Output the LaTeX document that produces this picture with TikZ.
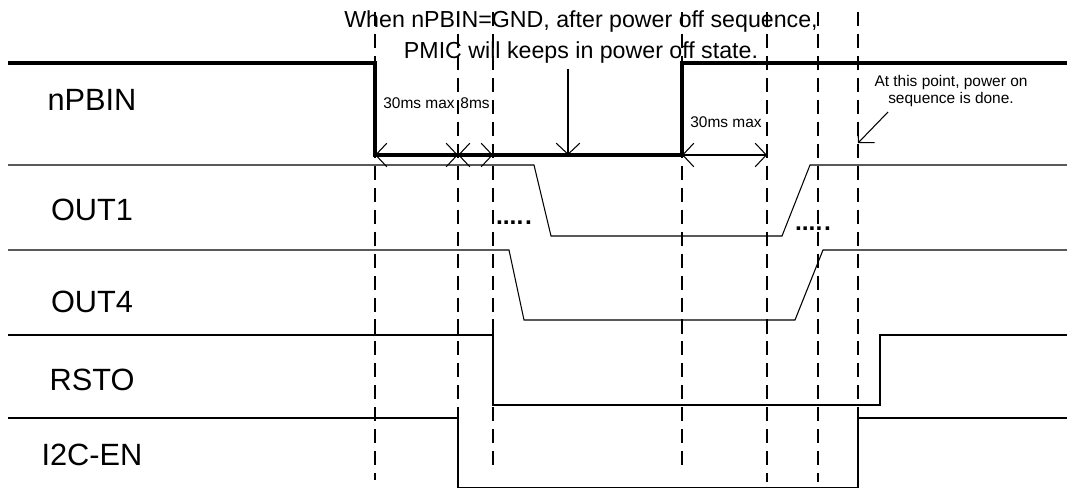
\documentclass[tikz,border=0pt]{standalone}
\usepackage{fontspec}
\setmainfont{Liberation Sans}
\usetikzlibrary{arrows.meta}
\begin{document}
\begin{tikzpicture}[x=0.02cm, y=-0.02cm, line width=0.6pt,
    >={Straight Barb[length=6.3pt,width=13.4pt]},
    strong/.style={line width=1.8pt},
    marker/.style={dash pattern=on 8pt off 4.5pt, line width=0.6pt},
    siglabel/.style={font=\fontsize{17.5}{20}\selectfont, inner sep=0pt},
    small/.style={font=\fontsize{8.8}{10.2}\selectfont, inner sep=0pt, align=center},
    dots/.style={font=\fontsize{14}{14}\selectfont\bfseries, inner sep=0pt}]
  \useasboundingbox (0,0) rectangle (1067,489);
  % one row per signal
  \foreach \name/\yy in {nPBIN/100, OUT1/210, OUT4/302, RSTO/380, I2C-EN/455}
    \node[siglabel] (lbl-\name) at (92,\yy) {\name};
  % time markers
  \foreach \tx/\bot in {375/480, 458/418, 493/473, 682/472, 767/482, 818/482, 858/418}
    \draw[marker] (\tx,12) -- (\tx,\bot);
  % waveforms
  \draw[strong] (8,63) -- (375,63) -- (375,155) -- (682,155) -- (682,63) -- (1067,63);
  \draw (8,165) -- (534,165) -- (551,236) -- (782,236) -- (810,165) -- (1067,165);
  \draw (8,250) -- (509,250) -- (524,320) -- (795,320) -- (823,250) -- (1067,250);
  \draw (8,335) -- (493,335) -- (493,405) -- (880,405) -- (880,335) -- (1067,335);
  \draw (8,418) -- (458,418) -- (458,487.5) -- (858,487.5) -- (858,418) -- (1067,418);
  \node[dots] (dots1) at (514,223) {....\kern1pt.};
  \node[dots] (dots2) at (813,229) {....\kern1pt.};
  % timing on the nPBIN low level
  \coordinate (off) at (375,155);
  \coordinate (sd) at (458,155);
  \coordinate (rel) at (493,155);
  \coordinate (hold) at (568,155);
  \coordinate (on) at (682,155);
  \coordinate (up) at (767,155);
  \coordinate (done) at (858,143);
  \draw[<->] (off) -- (sd);
  \draw[<->] (sd) -- (rel);
  \draw[<->] (on) -- (up);
  \node[small] (d1) at (419,103) {30ms max};
  \node[small] (d2) at (475,103) {8ms};
  \node[small] (d3) at (726,122) {30ms max};
  \node[font=\fontsize{13.2}{17.6}\selectfont, align=center, inner sep=0pt, outer sep=3pt]
    (note) at (581,37) {When nPBIN=GND, after power off sequence,\\PMIC will keeps in power off state.};
  \draw[->] (hold |- note.south) -- (hold);
  \node[small] (donenote) at (951,91) {At this point, power on\\sequence is done.};
  \coordinate (dstart) at (888,112);
  \draw[->] (dstart) -- (done);
\end{tikzpicture}
\end{document}
